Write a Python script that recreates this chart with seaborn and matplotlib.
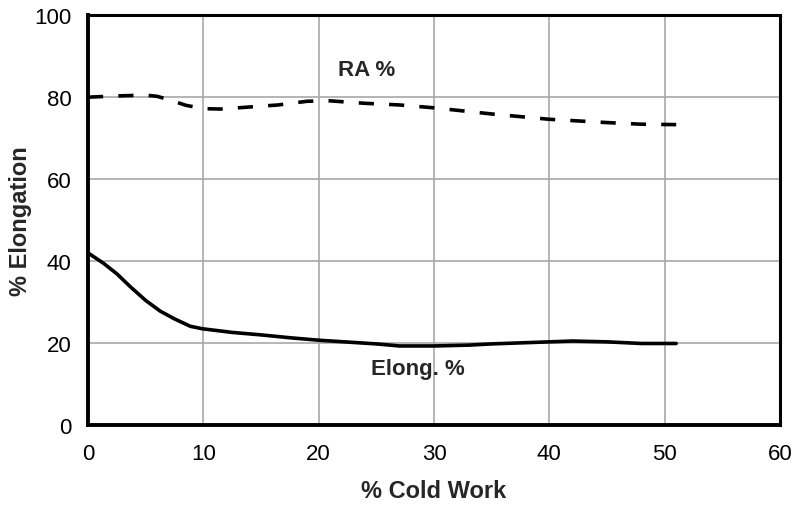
import matplotlib
matplotlib.use("Agg")
import matplotlib.pyplot as plt
import seaborn as sns
import pandas as pd

# ---- data ----
elong_x = [0, 1.33, 2.5, 3.65, 5, 6.26, 7.5, 8.87, 9.9, 12.5, 15, 17.5, 20, 25, 27, 30, 33, 35, 40, 42, 45, 48, 51]
elong_y = [42.0, 39.5, 36.9, 33.8, 30.4, 27.8, 25.9, 24.1, 23.5, 22.6, 22.0, 21.3, 20.7, 19.8, 19.3, 19.3, 19.5, 19.8, 20.3, 20.5, 20.3, 19.9, 19.9]

ra_x = [0, 2.5, 5, 6, 7, 8.5, 10, 11.5, 13.5, 16.5, 19, 21, 24, 27, 30, 35, 40, 45, 48, 51]
ra_y = [80.0, 80.3, 80.5, 80.2, 79.4, 78.0, 77.2, 77.1, 77.5, 78.1, 79.0, 79.1, 78.5, 78.1, 77.4, 75.9, 74.6, 73.8, 73.4, 73.3]

x_ticks = [0, 10, 20, 30, 40, 50, 60]
y_ticks = [0, 20, 40, 60, 80, 100]
x_minor = [5, 15, 25, 35, 45, 55]
y_minor = [10, 30, 50, 70, 90]

x_label = "% Cold Work"
y_label = "% Elongation"
ra_text = "RA %"
elong_text = "Elong. %"

sns.set_theme(style="white")
plt.rcParams['font.family'] = ['Liberation Sans', 'DejaVu Sans']

elong_df = pd.DataFrame({"x": elong_x, "y": elong_y})
ra_df = pd.DataFrame({"x": ra_x, "y": ra_y})

fig = plt.figure(figsize=(7.98, 5.06), dpi=100)
ax = fig.add_axes([0.1103, 0.158, 0.8671, 0.810])

sns.lineplot(data=elong_df, x="x", y="y", ax=ax, color="black", lw=2.6, sort=False)
sns.lineplot(data=ra_df, x="x", y="y", ax=ax, color="black", lw=2.6, sort=False,
             linestyle=(0, (4.2, 4.2)))

ax.set_xlim(0, 60)
ax.set_ylim(0, 100)
ax.set_xticks(x_ticks)
ax.set_yticks(y_ticks)
ax.set_xticks(x_minor, minor=True)
ax.set_yticks(y_minor, minor=True)
ax.grid(True, which="major", color="#a8a8a8", lw=1.2)
ax.set_axisbelow(True)

ax.tick_params(axis="both", which="major", length=0, labelsize=16, colors="black")
ax.tick_params(axis="x", which="major", pad=13)
ax.tick_params(axis="y", which="major", pad=12)
ax.tick_params(axis="x", which="minor", direction="in", length=13, width=1.3, color="#777777")
ax.tick_params(axis="y", which="minor", direction="in", length=14.5, width=1.3, color="#999999")

for side, w in [("left", 2.8), ("bottom", 2.8), ("top", 2.2), ("right", 2.2)]:
    ax.spines[side].set_visible(True)
    ax.spines[side].set_color("black")
    ax.spines[side].set_linewidth(w)

ax.set_xlabel(x_label, fontsize=17, fontweight="bold", labelpad=11)
ax.set_ylabel(y_label, fontsize=17, fontweight="bold", labelpad=1.5)

ax.text(24.2, 86.8, ra_text, fontsize=16, fontweight="bold", ha="center", va="center")
ax.text(28.6, 13.9, elong_text, fontsize=16, fontweight="bold", ha="center", va="center")

fig.savefig("out.png", dpi=100)
